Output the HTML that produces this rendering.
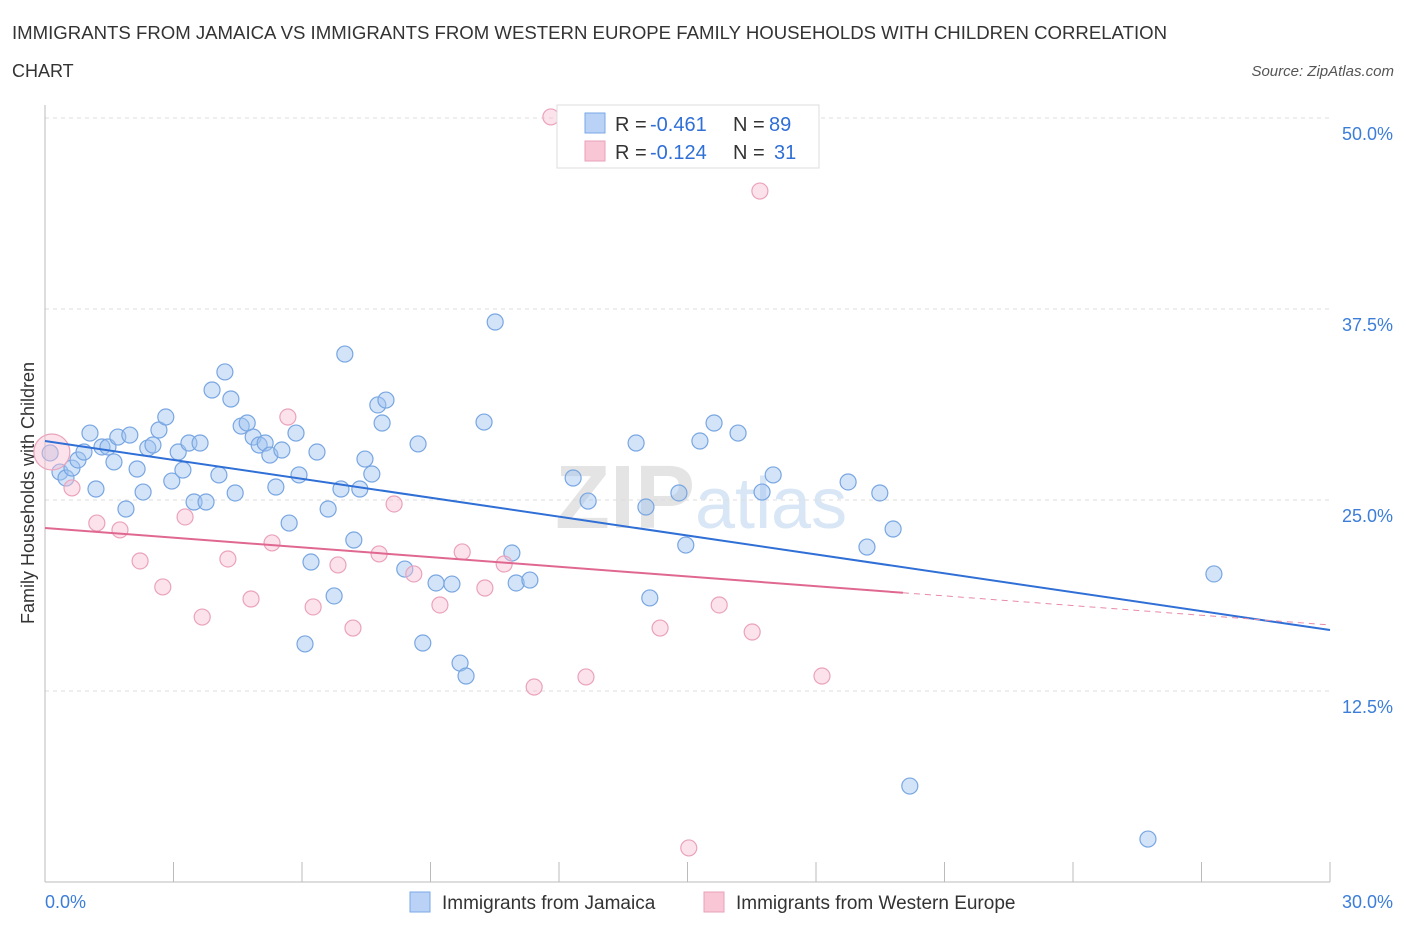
<!DOCTYPE html>
<html><head><meta charset="utf-8"><style>
body{margin:0;background:#fff;font-family:"Liberation Sans",sans-serif;}
svg text{font-family:"Liberation Sans",sans-serif;}
</style></head><body>
<svg id="chart" width="1406" height="930">
<text x="12" y="39" font-size="18" fill="#333" textLength="1155" lengthAdjust="spacingAndGlyphs">IMMIGRANTS FROM JAMAICA VS IMMIGRANTS FROM WESTERN EUROPE FAMILY HOUSEHOLDS WITH CHILDREN CORRELATION</text>
<text x="12" y="77" font-size="18" fill="#333">CHART</text>
<text x="1394" y="76" font-size="15" fill="#555" font-style="italic" text-anchor="end">Source: ZipAtlas.com</text>
<text transform="translate(34,493) rotate(-90)" font-size="18" fill="#333" text-anchor="middle">Family Households with Children</text>
<text x="555" y="528" font-size="90" fill="#e4e4e4" font-weight="bold">ZIP<tspan fill="#d8e6f6" font-weight="normal" font-size="72">atlas</tspan></text>
<g id="grid"></g><g id="marks"></g>
<g>
<rect x="557" y="105" width="262" height="63" fill="#fff" stroke="#ddd"/>
<rect x="585" y="113" width="20" height="20" fill="#b9d2f5" stroke="#7aa7e6"/>
<rect x="585" y="141" width="20" height="20" fill="#f9c6d6" stroke="#e9a0b8"/>
<text x="615" y="131" font-size="20" fill="#333">R =</text>
<text x="650" y="131" font-size="20" fill="#2f6fd6">-0.461</text>
<text x="733" y="131" font-size="20" fill="#333">N =</text>
<text x="769" y="131" font-size="20" fill="#2f6fd6">89</text>
<text x="615" y="159" font-size="20" fill="#333">R =</text>
<text x="650" y="159" font-size="20" fill="#2f6fd6">-0.124</text>
<text x="733" y="159" font-size="20" fill="#333">N =</text>
<text x="774" y="159" font-size="20" fill="#2f6fd6">31</text>
</g>
<g>
<rect x="410" y="892" width="20" height="20" fill="#b9d2f5" stroke="#7aa7e6"/>
<text x="442" y="909" font-size="19" fill="#333">Immigrants from Jamaica</text>
<rect x="704" y="892" width="20" height="20" fill="#f9c6d6" stroke="#e9a0b8"/>
<text x="736" y="909" font-size="19" fill="#333">Immigrants from Western Europe</text>
</g>
</svg>
<script>
const yTicks=[12.5,25,37.5,50];
const yTickLabels=["12.5%","25.0%","37.5%","50.0%"];
const xTickLabels=["0.0%","30.0%"];
const jamX=[0.12,0.35,0.49,0.63,0.77,0.91,1.05,1.19,1.33,1.47,1.61,1.70,1.89,1.98,2.15,2.29,2.40,2.52,2.66,2.82,2.96,3.11,3.22,3.36,3.48,3.62,3.76,3.90,4.06,4.20,4.34,4.44,4.58,4.72,4.86,5.00,5.14,5.25,5.39,5.53,5.70,5.86,5.93,6.07,6.21,6.35,6.61,6.75,6.91,7.00,7.21,7.35,7.47,7.63,7.77,7.87,7.96,8.40,8.71,8.82,9.13,9.50,9.69,9.83,10.25,10.51,10.90,11.00,11.32,12.33,12.68,13.80,14.03,14.12,14.80,14.96,15.29,15.62,16.18,16.74,17.00,18.75,19.19,19.49,19.80,20.19,25.75,27.29];
const jamY=[28.08,26.83,26.44,27.09,27.62,28.14,29.38,25.72,28.47,28.47,27.49,29.12,24.41,29.25,27.03,25.52,28.40,28.60,29.58,30.43,26.24,28.14,26.96,28.73,24.87,28.73,24.87,32.20,26.64,33.38,31.61,25.46,29.84,30.04,29.12,28.60,28.73,27.94,25.85,28.27,23.49,29.38,26.64,15.58,20.94,28.14,24.41,18.72,25.72,34.55,22.38,25.72,27.68,26.70,31.22,30.04,31.54,20.48,28.67,15.64,19.57,19.50,14.33,13.48,30.10,36.65,21.53,19.57,19.76,26.44,24.93,28.73,24.54,18.59,25.46,22.05,28.86,30.04,29.38,25.52,26.64,26.18,21.92,25.46,23.10,6.28,2.81,20.16];
const weuX=[0.16,0.63,1.21,1.75,2.22,2.75,3.27,3.67,4.27,4.81,5.30,5.67,6.26,6.84,7.19,7.80,8.15,8.61,9.22,9.74,10.27,10.72,11.42,11.81,12.63,14.36,15.03,15.74,16.51,16.69,18.14];
const weuY=[28.14,25.79,23.49,23.04,21.01,19.31,23.89,17.34,21.14,18.52,22.19,30.43,18.00,20.75,16.62,21.47,24.74,20.16,18.13,21.60,19.24,20.81,12.76,50.07,13.42,16.62,2.23,18.13,16.36,45.22,13.48];
const jamTrend=[28.86,16.49];
const weuTrend=[23.17,16.82];
const weuSolidEnd=20.03;
const NS="http://www.w3.org/2000/svg";
const X=v=>45+v/30*1285, Y=v=>882-v/50*764;
function mk(t,a,p){const e=document.createElementNS(NS,t);for(const k in a)e.setAttribute(k,a[k]);p.appendChild(e);return e;}
const grid=document.getElementById('grid'),marks=document.getElementById('marks');
yTicks.forEach((t,i)=>{
 const l=mk('line',{x1:45,x2:1330,y1:Y(t),y2:Y(t),stroke:'#ddd','stroke-dasharray':'4 4'},grid);
 
 
 const tx=mk('text',{x:1393,y:Y(t)+22,'font-size':18,fill:'#3b7dd8','text-anchor':'end'},grid);
 tx.textContent=yTickLabels[i];
 
 
});
const ax=mk('line',{x1:45,x2:1330,y1:882,y2:882,stroke:'#bbb'},grid);


const ay=mk('line',{x1:45,x2:45,y1:105,y2:882,stroke:'#bbb'},grid);


for(let i=0;i<=10;i++){const t=mk('line',{x1:X(i*3),x2:X(i*3),y1:862,y2:882,stroke:'#bbb'},grid);
 
 }
[[0,'start',45],[30,'end',1393]].forEach((d,i)=>{const t=mk('text',{x:d[2],y:908,'font-size':18,fill:'#3b7dd8','text-anchor':d[1]},grid);t.textContent=xTickLabels[i];
 
 });
jamX.forEach((x,i)=>{const c=mk('circle',{cx:X(x),cy:Y(jamY[i]),r:8,fill:'rgba(160,195,240,0.45)',stroke:'#78a6e2','stroke-width':1.2},marks);
 
 });
weuX.forEach((x,i)=>{const c=mk('circle',{cx:X(x),cy:Y(weuY[i]),r:i==0?18:8,fill:'rgba(248,190,210,0.45)',stroke:'#eaa2bc','stroke-width':1.2},marks);
 
 });
const jl=mk('line',{x1:X(0),y1:Y(jamTrend[0]),x2:X(30),y2:Y(jamTrend[1]),stroke:'#2f6fd6','stroke-width':2},marks);


const wm=weuTrend[0]+(weuTrend[1]-weuTrend[0])*weuSolidEnd/30;
const wl=mk('line',{x1:X(0),y1:Y(weuTrend[0]),x2:X(weuSolidEnd),y2:Y(wm),stroke:'#e06890','stroke-width':2},marks);


const wd=mk('line',{x1:X(weuSolidEnd),y1:Y(wm),x2:X(30),y2:Y(weuTrend[1]),stroke:'#e88aa8','stroke-width':1,'stroke-dasharray':'6 5'},marks);


</script>
</body></html>
